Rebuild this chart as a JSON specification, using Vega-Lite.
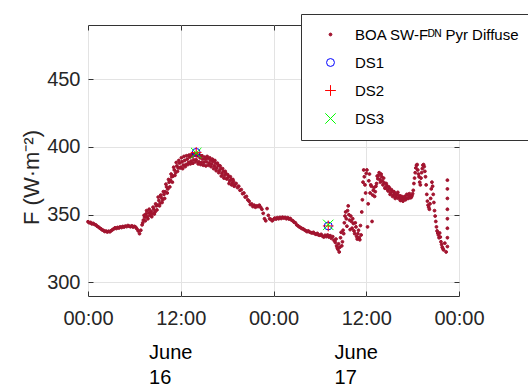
{
"$schema":"https://vega.github.io/schema/vega-lite/v6.json",
"autosize":{"type":"none"},
"width":371,"height":271,
"padding":{"left":88,"top":25,"right":69,"bottom":91},
"background":"white",
"config":{
 "font":"Liberation Sans",
 "view":{"stroke":"#333333","strokeWidth":1},
 "axis":{"labelFont":"Liberation Sans","labelFontSize":20,"labelColor":"#262626","domainColor":"#333333","tickColor":"#333333","tickWidth":1,"gridColor":"#e3e3e3","gridWidth":1,"titleFont":"Liberation Sans","titleFontWeight":"normal","titleColor":"#262626"},
 "legend":{"orient":"none","legendX":213,"legendY":-11,"fillColor":"white","strokeColor":"#333333","strokeWidth":1,"padding":13,"labelFont":"Liberation Sans","labelFontSize":15,"labelColor":"#000000","rowPadding":12,"symbolOffset":9,"labelOffset":17,"labelLimit":0,"title":null,"symbolStrokeWidth":1}
},
"datasets":{"main":[
{"t":"2024-06-16T00:00","v":344.8,"s":"B"},{"t":"2024-06-16T00:10","v":344.0,"s":"B"},{"t":"2024-06-16T00:20","v":344.3,"s":"B"},{"t":"2024-06-16T00:30","v":343.2,"s":"B"},{"t":"2024-06-16T00:40","v":343.6,"s":"B"},{"t":"2024-06-16T00:50","v":342.8,"s":"B"},
{"t":"2024-06-16T01:00","v":342.5,"s":"B"},{"t":"2024-06-16T01:10","v":341.6,"s":"B"},{"t":"2024-06-16T01:20","v":341.0,"s":"B"},{"t":"2024-06-16T01:30","v":340.2,"s":"B"},{"t":"2024-06-16T01:40","v":339.6,"s":"B"},{"t":"2024-06-16T01:50","v":338.8,"s":"B"},
{"t":"2024-06-16T02:00","v":338.4,"s":"B"},{"t":"2024-06-16T02:10","v":337.6,"s":"B"},{"t":"2024-06-16T02:20","v":337.9,"s":"B"},{"t":"2024-06-16T02:30","v":337.2,"s":"B"},{"t":"2024-06-16T02:40","v":337.8,"s":"B"},{"t":"2024-06-16T02:50","v":337.4,"s":"B"},
{"t":"2024-06-16T03:00","v":338.2,"s":"B"},{"t":"2024-06-16T03:10","v":338.9,"s":"B"},{"t":"2024-06-16T03:20","v":339.5,"s":"B"},{"t":"2024-06-16T03:30","v":340.3,"s":"B"},{"t":"2024-06-16T03:40","v":339.8,"s":"B"},{"t":"2024-06-16T03:50","v":340.6,"s":"B"},
{"t":"2024-06-16T04:00","v":340.2,"s":"B"},{"t":"2024-06-16T04:10","v":341.0,"s":"B"},{"t":"2024-06-16T04:20","v":340.5,"s":"B"},{"t":"2024-06-16T04:30","v":341.3,"s":"B"},{"t":"2024-06-16T04:40","v":340.9,"s":"B"},{"t":"2024-06-16T04:50","v":341.6,"s":"B"},
{"t":"2024-06-16T05:00","v":341.2,"s":"B"},{"t":"2024-06-16T05:10","v":342.0,"s":"B"},{"t":"2024-06-16T05:20","v":341.5,"s":"B"},{"t":"2024-06-16T05:30","v":341.1,"s":"B"},{"t":"2024-06-16T05:40","v":341.8,"s":"B"},{"t":"2024-06-16T05:50","v":340.9,"s":"B"},
{"t":"2024-06-16T06:00","v":341.4,"s":"B"},{"t":"2024-06-16T06:10","v":340.8,"s":"B"},{"t":"2024-06-16T06:20","v":339.5,"s":"B"},{"t":"2024-06-16T06:30","v":338.0,"s":"B"},{"t":"2024-06-16T06:40","v":336.0,"s":"B"},{"t":"2024-06-16T06:50","v":338.5,"s":"B"},
{"t":"2024-06-16T07:00","v":342.5,"s":"B"},{"t":"2024-06-16T07:10","v":346.0,"s":"B"},{"t":"2024-06-16T07:20","v":348.0,"s":"B"},{"t":"2024-06-16T07:30","v":350.5,"s":"B"},{"t":"2024-06-16T07:40","v":348.5,"s":"B"},{"t":"2024-06-16T07:50","v":351.5,"s":"B"},
{"t":"2024-06-16T08:00","v":349.5,"s":"B"},{"t":"2024-06-16T08:10","v":352.5,"s":"B"},{"t":"2024-06-16T08:20","v":350.8,"s":"B"},{"t":"2024-06-16T08:30","v":354.0,"s":"B"},{"t":"2024-06-16T08:40","v":352.0,"s":"B"},{"t":"2024-06-16T08:50","v":356.5,"s":"B"},
{"t":"2024-06-16T09:00","v":357.0,"s":"B"},{"t":"2024-06-16T09:10","v":360.5,"s":"B"},{"t":"2024-06-16T09:20","v":358.5,"s":"B"},{"t":"2024-06-16T09:30","v":362.5,"s":"B"},{"t":"2024-06-16T09:40","v":361.0,"s":"B"},{"t":"2024-06-16T09:50","v":365.0,"s":"B"},
{"t":"2024-06-16T10:00","v":367.0,"s":"B"},{"t":"2024-06-16T10:10","v":370.5,"s":"B"},{"t":"2024-06-16T10:20","v":369.0,"s":"B"},{"t":"2024-06-16T10:30","v":374.0,"s":"B"},{"t":"2024-06-16T10:40","v":375.5,"s":"B"},{"t":"2024-06-16T10:50","v":378.0,"s":"B"},
{"t":"2024-06-16T11:00","v":378.5,"s":"B"},{"t":"2024-06-16T11:10","v":383.0,"s":"B"},{"t":"2024-06-16T11:20","v":381.0,"s":"B"},{"t":"2024-06-16T11:30","v":386.0,"s":"B"},{"t":"2024-06-16T11:40","v":384.5,"s":"B"},{"t":"2024-06-16T11:50","v":388.0,"s":"B"},
{"t":"2024-06-16T12:00","v":385.0,"s":"B"},{"t":"2024-06-16T12:10","v":389.0,"s":"B"},{"t":"2024-06-16T12:20","v":386.5,"s":"B"},{"t":"2024-06-16T12:30","v":390.0,"s":"B"},{"t":"2024-06-16T12:40","v":387.0,"s":"B"},{"t":"2024-06-16T12:50","v":391.0,"s":"B"},
{"t":"2024-06-16T13:00","v":388.5,"s":"B"},{"t":"2024-06-16T13:10","v":392.5,"s":"B"},{"t":"2024-06-16T13:20","v":389.5,"s":"B"},{"t":"2024-06-16T13:30","v":393.0,"s":"B"},{"t":"2024-06-16T13:40","v":390.5,"s":"B"},{"t":"2024-06-16T13:50","v":394.0,"s":"B"},
{"t":"2024-06-16T14:00","v":390.5,"s":"B"},{"t":"2024-06-16T14:10","v":393.5,"s":"B"},{"t":"2024-06-16T14:20","v":389.0,"s":"B"},{"t":"2024-06-16T14:30","v":392.0,"s":"B"},{"t":"2024-06-16T14:40","v":388.5,"s":"B"},{"t":"2024-06-16T14:50","v":391.0,"s":"B"},
{"t":"2024-06-16T15:00","v":388.5,"s":"B"},{"t":"2024-06-16T15:10","v":391.0,"s":"B"},{"t":"2024-06-16T15:20","v":389.0,"s":"B"},{"t":"2024-06-16T15:30","v":391.5,"s":"B"},{"t":"2024-06-16T15:40","v":388.0,"s":"B"},{"t":"2024-06-16T15:50","v":390.0,"s":"B"},
{"t":"2024-06-16T16:00","v":387.5,"s":"B"},{"t":"2024-06-16T16:10","v":389.5,"s":"B"},{"t":"2024-06-16T16:20","v":386.0,"s":"B"},{"t":"2024-06-16T16:30","v":388.0,"s":"B"},{"t":"2024-06-16T16:40","v":384.5,"s":"B"},{"t":"2024-06-16T16:50","v":386.5,"s":"B"},
{"t":"2024-06-16T17:00","v":382.5,"s":"B"},{"t":"2024-06-16T17:10","v":384.0,"s":"B"},{"t":"2024-06-16T17:20","v":380.5,"s":"B"},{"t":"2024-06-16T17:30","v":382.0,"s":"B"},{"t":"2024-06-16T17:40","v":379.0,"s":"B"},{"t":"2024-06-16T17:50","v":380.5,"s":"B"},
{"t":"2024-06-16T18:00","v":376.5,"s":"B"},{"t":"2024-06-16T18:10","v":378.0,"s":"B"},{"t":"2024-06-16T18:20","v":375.0,"s":"B"},{"t":"2024-06-16T18:30","v":376.0,"s":"B"},{"t":"2024-06-16T18:40","v":373.5,"s":"B"},{"t":"2024-06-16T18:50","v":374.5,"s":"B"},
{"t":"2024-06-16T19:00","v":372.0,"s":"B"},{"t":"2024-06-16T19:10","v":373.0,"s":"B"},{"t":"2024-06-16T19:20","v":370.0,"s":"B"},{"t":"2024-06-16T19:30","v":371.0,"s":"B"},{"t":"2024-06-16T19:40","v":368.0,"s":"B"},{"t":"2024-06-16T19:50","v":368.5,"s":"B"},
{"t":"2024-06-16T20:00","v":365.5,"s":"B"},{"t":"2024-06-16T20:10","v":366.0,"s":"B"},{"t":"2024-06-16T20:20","v":363.0,"s":"B"},{"t":"2024-06-16T20:30","v":363.5,"s":"B"},{"t":"2024-06-16T20:40","v":361.0,"s":"B"},{"t":"2024-06-16T20:50","v":360.0,"s":"B"},
{"t":"2024-06-16T21:00","v":357.5,"s":"B"},{"t":"2024-06-16T21:10","v":358.0,"s":"B"},{"t":"2024-06-16T21:20","v":356.0,"s":"B"},{"t":"2024-06-16T21:30","v":357.0,"s":"B"},{"t":"2024-06-16T21:40","v":355.5,"s":"B"},{"t":"2024-06-16T21:50","v":356.5,"s":"B"},
{"t":"2024-06-16T22:00","v":356.0,"s":"B"},{"t":"2024-06-16T22:10","v":357.0,"s":"B"},{"t":"2024-06-16T22:20","v":355.5,"s":"B"},{"t":"2024-06-16T22:30","v":354.0,"s":"B"},{"t":"2024-06-16T22:40","v":351.0,"s":"B"},{"t":"2024-06-16T22:50","v":347.0,"s":"B"},
{"t":"2024-06-16T23:00","v":345.5,"s":"B"},{"t":"2024-06-16T23:10","v":354.5,"s":"B"},{"t":"2024-06-16T23:20","v":349.5,"s":"B"},{"t":"2024-06-16T23:30","v":347.0,"s":"B"},{"t":"2024-06-16T23:40","v":346.5,"s":"B"},{"t":"2024-06-16T23:50","v":345.5,"s":"B"},
{"t":"2024-06-17T00:00","v":346.5,"s":"B"},{"t":"2024-06-17T00:10","v":347.5,"s":"B"},{"t":"2024-06-17T00:20","v":346.8,"s":"B"},{"t":"2024-06-17T00:30","v":347.8,"s":"B"},{"t":"2024-06-17T00:40","v":347.0,"s":"B"},{"t":"2024-06-17T00:50","v":348.0,"s":"B"},
{"t":"2024-06-17T01:00","v":347.2,"s":"B"},{"t":"2024-06-17T01:10","v":348.2,"s":"B"},{"t":"2024-06-17T01:20","v":347.5,"s":"B"},{"t":"2024-06-17T01:30","v":348.0,"s":"B"},{"t":"2024-06-17T01:40","v":347.0,"s":"B"},{"t":"2024-06-17T01:50","v":347.8,"s":"B"},
{"t":"2024-06-17T02:00","v":346.8,"s":"B"},{"t":"2024-06-17T02:10","v":347.2,"s":"B"},{"t":"2024-06-17T02:20","v":346.0,"s":"B"},{"t":"2024-06-17T02:30","v":345.5,"s":"B"},{"t":"2024-06-17T02:40","v":344.5,"s":"B"},{"t":"2024-06-17T02:50","v":344.0,"s":"B"},
{"t":"2024-06-17T03:00","v":342.5,"s":"B"},{"t":"2024-06-17T03:10","v":341.8,"s":"B"},{"t":"2024-06-17T03:20","v":341.0,"s":"B"},{"t":"2024-06-17T03:30","v":340.5,"s":"B"},{"t":"2024-06-17T03:40","v":339.8,"s":"B"},{"t":"2024-06-17T03:50","v":339.5,"s":"B"},
{"t":"2024-06-17T04:00","v":338.8,"s":"B"},{"t":"2024-06-17T04:10","v":338.2,"s":"B"},{"t":"2024-06-17T04:20","v":337.5,"s":"B"},{"t":"2024-06-17T04:30","v":338.0,"s":"B"},{"t":"2024-06-17T04:40","v":337.2,"s":"B"},{"t":"2024-06-17T04:50","v":336.8,"s":"B"},
{"t":"2024-06-17T05:00","v":336.5,"s":"B"},{"t":"2024-06-17T05:10","v":337.0,"s":"B"},{"t":"2024-06-17T05:20","v":336.0,"s":"B"},{"t":"2024-06-17T05:30","v":335.5,"s":"B"},{"t":"2024-06-17T05:40","v":336.2,"s":"B"},{"t":"2024-06-17T05:50","v":335.0,"s":"B"},
{"t":"2024-06-17T06:00","v":334.8,"s":"B"},{"t":"2024-06-17T06:10","v":335.5,"s":"B"},{"t":"2024-06-17T06:20","v":334.2,"s":"B"},{"t":"2024-06-17T06:30","v":333.5,"s":"B"},{"t":"2024-06-17T06:40","v":334.8,"s":"B"},{"t":"2024-06-17T06:50","v":333.8,"s":"B"},
{"t":"2024-06-17T07:00","v":335.0,"s":"B"},{"t":"2024-06-17T07:10","v":333.5,"s":"B"},{"t":"2024-06-17T07:20","v":334.5,"s":"B"},{"t":"2024-06-17T07:30","v":332.5,"s":"B"},{"t":"2024-06-17T07:40","v":333.8,"s":"B"},{"t":"2024-06-17T07:50","v":331.0,"s":"B"},
{"t":"2024-06-17T08:00","v":329.5,"s":"B"},{"t":"2024-06-17T08:10","v":327.0,"s":"B"},{"t":"2024-06-17T08:20","v":324.5,"s":"B"},{"t":"2024-06-17T08:30","v":322.5,"s":"B"},{"t":"2024-06-17T08:40","v":333.0,"s":"B"},{"t":"2024-06-17T08:50","v":327.0,"s":"B"},
{"t":"2024-06-17T09:00","v":338.5,"s":"B"},{"t":"2024-06-17T09:10","v":344.0,"s":"B"},{"t":"2024-06-17T09:20","v":352.0,"s":"B"},{"t":"2024-06-17T09:30","v":341.5,"s":"B"},{"t":"2024-06-17T09:40","v":356.5,"s":"B"},{"t":"2024-06-17T09:50","v":346.0,"s":"B"},
{"t":"2024-06-17T10:00","v":349.0,"s":"B"},{"t":"2024-06-17T10:10","v":340.0,"s":"B"},{"t":"2024-06-17T10:20","v":343.5,"s":"B"},{"t":"2024-06-17T10:30","v":336.0,"s":"B"},{"t":"2024-06-17T10:40","v":341.0,"s":"B"},{"t":"2024-06-17T10:50","v":332.0,"s":"B"},
{"t":"2024-06-17T11:00","v":338.5,"s":"B"},{"t":"2024-06-17T11:10","v":331.5,"s":"B"},{"t":"2024-06-17T11:20","v":335.0,"s":"B"},{"t":"2024-06-17T11:30","v":361.0,"s":"B"},{"t":"2024-06-17T11:40","v":383.0,"s":"B"},{"t":"2024-06-17T11:50","v":372.0,"s":"B"},
{"t":"2024-06-17T12:00","v":380.5,"s":"B"},{"t":"2024-06-17T12:10","v":341.0,"s":"B"},{"t":"2024-06-17T12:20","v":375.0,"s":"B"},{"t":"2024-06-17T12:30","v":366.0,"s":"B"},{"t":"2024-06-17T12:40","v":371.0,"s":"B"},{"t":"2024-06-17T12:50","v":364.5,"s":"B"},
{"t":"2024-06-17T13:00","v":370.0,"s":"B"},{"t":"2024-06-17T13:10","v":367.0,"s":"B"},{"t":"2024-06-17T13:20","v":373.0,"s":"B"},{"t":"2024-06-17T13:30","v":376.5,"s":"B"},{"t":"2024-06-17T13:40","v":381.0,"s":"B"},{"t":"2024-06-17T13:50","v":374.0,"s":"B"},
{"t":"2024-06-17T14:00","v":378.0,"s":"B"},{"t":"2024-06-17T14:10","v":372.0,"s":"B"},{"t":"2024-06-17T14:20","v":373.5,"s":"B"},{"t":"2024-06-17T14:30","v":370.0,"s":"B"},{"t":"2024-06-17T14:40","v":371.5,"s":"B"},{"t":"2024-06-17T14:50","v":367.5,"s":"B"},
{"t":"2024-06-17T15:00","v":369.5,"s":"B"},{"t":"2024-06-17T15:10","v":366.0,"s":"B"},{"t":"2024-06-17T15:20","v":367.5,"s":"B"},{"t":"2024-06-17T15:30","v":364.5,"s":"B"},{"t":"2024-06-17T15:40","v":366.0,"s":"B"},{"t":"2024-06-17T15:50","v":363.0,"s":"B"},
{"t":"2024-06-17T16:00","v":365.0,"s":"B"},{"t":"2024-06-17T16:10","v":362.0,"s":"B"},{"t":"2024-06-17T16:20","v":364.0,"s":"B"},{"t":"2024-06-17T16:30","v":361.0,"s":"B"},{"t":"2024-06-17T16:40","v":362.5,"s":"B"},{"t":"2024-06-17T16:50","v":361.5,"s":"B"},
{"t":"2024-06-17T17:00","v":363.5,"s":"B"},{"t":"2024-06-17T17:10","v":362.0,"s":"B"},{"t":"2024-06-17T17:20","v":364.5,"s":"B"},{"t":"2024-06-17T17:30","v":362.5,"s":"B"},{"t":"2024-06-17T17:40","v":364.0,"s":"B"},{"t":"2024-06-17T17:50","v":363.0,"s":"B"},
{"t":"2024-06-17T18:00","v":365.5,"s":"B"},{"t":"2024-06-17T18:10","v":373.0,"s":"B"},{"t":"2024-06-17T18:20","v":381.0,"s":"B"},{"t":"2024-06-17T18:30","v":386.5,"s":"B"},{"t":"2024-06-17T18:40","v":383.0,"s":"B"},{"t":"2024-06-17T18:50","v":378.0,"s":"B"},
{"t":"2024-06-17T19:00","v":372.0,"s":"B"},{"t":"2024-06-17T19:10","v":381.0,"s":"B"},{"t":"2024-06-17T19:20","v":386.5,"s":"B"},{"t":"2024-06-17T19:30","v":385.5,"s":"B"},{"t":"2024-06-17T19:40","v":378.0,"s":"B"},{"t":"2024-06-17T19:50","v":365.0,"s":"B"},
{"t":"2024-06-17T20:00","v":357.0,"s":"B"},{"t":"2024-06-17T20:10","v":354.0,"s":"B"},{"t":"2024-06-17T20:20","v":362.0,"s":"B"},{"t":"2024-06-17T20:30","v":374.0,"s":"B"},{"t":"2024-06-17T20:40","v":365.0,"s":"B"},{"t":"2024-06-17T20:50","v":353.0,"s":"B"},
{"t":"2024-06-17T21:00","v":345.0,"s":"B"},{"t":"2024-06-17T21:10","v":338.0,"s":"B"},{"t":"2024-06-17T21:20","v":335.0,"s":"B"},{"t":"2024-06-17T21:30","v":336.5,"s":"B"},{"t":"2024-06-17T21:40","v":330.0,"s":"B"},{"t":"2024-06-17T21:50","v":326.0,"s":"B"},
{"t":"2024-06-17T22:00","v":324.0,"s":"B"},{"t":"2024-06-17T22:10","v":329.0,"s":"B"},{"t":"2024-06-17T22:20","v":322.5,"s":"B"},
{"t":"2024-06-17T22:30","v":375.5,"s":"B"},{"t":"2024-06-17T22:30","v":369.0,"s":"B"},{"t":"2024-06-17T22:30","v":362.0,"s":"B"},{"t":"2024-06-17T22:30","v":354.0,"s":"B"},{"t":"2024-06-17T22:30","v":347.0,"s":"B"},{"t":"2024-06-17T22:30","v":340.0,"s":"B"},{"t":"2024-06-17T22:30","v":333.0,"s":"B"},{"t":"2024-06-17T22:30","v":326.5,"s":"B"},
{"t":"2024-06-16T07:05","v":344.0,"s":"B"},{"t":"2024-06-16T07:15","v":349.5,"s":"B"},{"t":"2024-06-16T07:25","v":345.5,"s":"B"},{"t":"2024-06-16T07:35","v":353.0,"s":"B"},{"t":"2024-06-16T07:45","v":347.0,"s":"B"},{"t":"2024-06-16T07:55","v":354.0,"s":"B"},
{"t":"2024-06-16T08:05","v":351.0,"s":"B"},{"t":"2024-06-16T08:15","v":348.5,"s":"B"},{"t":"2024-06-16T08:25","v":355.5,"s":"B"},{"t":"2024-06-16T08:35","v":350.5,"s":"B"},{"t":"2024-06-16T08:45","v":358.0,"s":"B"},{"t":"2024-06-16T08:55","v":353.5,"s":"B"},
{"t":"2024-06-16T09:05","v":363.0,"s":"B"},{"t":"2024-06-16T09:15","v":356.5,"s":"B"},{"t":"2024-06-16T09:25","v":364.5,"s":"B"},{"t":"2024-06-16T09:35","v":359.0,"s":"B"},{"t":"2024-06-16T09:45","v":367.0,"s":"B"},{"t":"2024-06-16T09:55","v":362.0,"s":"B"},
{"t":"2024-06-16T10:05","v":372.5,"s":"B"},{"t":"2024-06-16T10:15","v":366.0,"s":"B"},{"t":"2024-06-16T10:25","v":376.0,"s":"B"},{"t":"2024-06-16T10:35","v":370.5,"s":"B"},{"t":"2024-06-16T10:45","v":380.0,"s":"B"},{"t":"2024-06-16T10:55","v":374.0,"s":"B"},
{"t":"2024-06-16T11:05","v":385.0,"s":"B"},{"t":"2024-06-16T11:15","v":379.0,"s":"B"},{"t":"2024-06-16T11:25","v":388.5,"s":"B"},{"t":"2024-06-16T11:35","v":382.0,"s":"B"},{"t":"2024-06-16T11:45","v":390.0,"s":"B"},{"t":"2024-06-16T11:55","v":384.5,"s":"B"},
{"t":"2024-06-16T12:05","v":392.0,"s":"B"},{"t":"2024-06-16T12:15","v":384.0,"s":"B"},{"t":"2024-06-16T12:25","v":393.0,"s":"B"},{"t":"2024-06-16T12:35","v":385.5,"s":"B"},{"t":"2024-06-16T12:45","v":393.5,"s":"B"},{"t":"2024-06-16T12:55","v":387.0,"s":"B"},
{"t":"2024-06-16T13:05","v":394.0,"s":"B"},{"t":"2024-06-16T13:15","v":387.5,"s":"B"},{"t":"2024-06-16T13:25","v":394.5,"s":"B"},{"t":"2024-06-16T13:35","v":388.0,"s":"B"},{"t":"2024-06-16T13:45","v":394.5,"s":"B"},{"t":"2024-06-16T13:55","v":389.0,"s":"B"},
{"t":"2024-06-16T14:05","v":394.5,"s":"B"},{"t":"2024-06-16T14:15","v":387.5,"s":"B"},{"t":"2024-06-16T14:25","v":394.0,"s":"B"},{"t":"2024-06-16T14:35","v":387.0,"s":"B"},{"t":"2024-06-16T14:45","v":393.5,"s":"B"},{"t":"2024-06-16T14:55","v":386.5,"s":"B"},
{"t":"2024-06-16T15:05","v":392.5,"s":"B"},{"t":"2024-06-16T15:15","v":386.0,"s":"B"},{"t":"2024-06-16T15:25","v":393.0,"s":"B"},{"t":"2024-06-16T15:35","v":386.5,"s":"B"},{"t":"2024-06-16T15:45","v":392.0,"s":"B"},{"t":"2024-06-16T15:55","v":385.5,"s":"B"},
{"t":"2024-06-16T16:05","v":391.0,"s":"B"},{"t":"2024-06-16T16:15","v":384.0,"s":"B"},{"t":"2024-06-16T16:25","v":390.0,"s":"B"},{"t":"2024-06-16T16:35","v":382.5,"s":"B"},{"t":"2024-06-16T16:45","v":388.0,"s":"B"},{"t":"2024-06-16T16:55","v":381.0,"s":"B"},
{"t":"2024-06-16T17:05","v":386.0,"s":"B"},{"t":"2024-06-16T17:15","v":378.5,"s":"B"},{"t":"2024-06-16T17:25","v":384.0,"s":"B"},{"t":"2024-06-16T17:35","v":377.0,"s":"B"},{"t":"2024-06-16T17:45","v":382.0,"s":"B"},{"t":"2024-06-16T17:55","v":376.5,"s":"B"},
{"t":"2024-06-16T18:05","v":379.5,"s":"B"},{"t":"2024-06-16T18:15","v":373.0,"s":"B"},{"t":"2024-06-16T18:25","v":378.0,"s":"B"},{"t":"2024-06-16T18:35","v":372.0,"s":"B"},{"t":"2024-06-16T18:45","v":376.0,"s":"B"},{"t":"2024-06-16T18:55","v":371.0,"s":"B"},
{"t":"2024-06-17T08:05","v":332.0,"s":"B"},{"t":"2024-06-17T08:15","v":325.5,"s":"B"},{"t":"2024-06-17T08:25","v":328.5,"s":"B"},{"t":"2024-06-17T08:35","v":326.0,"s":"B"},{"t":"2024-06-17T08:45","v":337.0,"s":"B"},{"t":"2024-06-17T08:55","v":330.0,"s":"B"},
{"t":"2024-06-17T09:05","v":336.0,"s":"B"},{"t":"2024-06-17T09:15","v":349.0,"s":"B"},{"t":"2024-06-17T09:25","v":347.0,"s":"B"},{"t":"2024-06-17T09:35","v":353.0,"s":"B"},{"t":"2024-06-17T09:45","v":350.0,"s":"B"},{"t":"2024-06-17T09:55","v":339.0,"s":"B"},
{"t":"2024-06-17T10:05","v":345.0,"s":"B"},{"t":"2024-06-17T10:15","v":347.0,"s":"B"},{"t":"2024-06-17T10:25","v":338.0,"s":"B"},{"t":"2024-06-17T10:35","v":344.0,"s":"B"},{"t":"2024-06-17T10:45","v":334.0,"s":"B"},{"t":"2024-06-17T10:55","v":336.0,"s":"B"},
{"t":"2024-06-17T11:05","v":333.0,"s":"B"},{"t":"2024-06-17T11:15","v":342.0,"s":"B"},{"t":"2024-06-17T11:25","v":352.0,"s":"B"},{"t":"2024-06-17T11:35","v":374.0,"s":"B"},{"t":"2024-06-17T11:45","v":378.0,"s":"B"},{"t":"2024-06-17T11:55","v":366.0,"s":"B"},
{"t":"2024-06-17T12:05","v":383.0,"s":"B"},{"t":"2024-06-17T12:15","v":358.0,"s":"B"},{"t":"2024-06-17T12:25","v":380.0,"s":"B"},{"t":"2024-06-17T12:35","v":372.0,"s":"B"},{"t":"2024-06-17T12:45","v":345.0,"s":"B"},{"t":"2024-06-17T12:55","v":368.0,"s":"B"},
{"t":"2024-06-17T13:05","v":363.5,"s":"B"},{"t":"2024-06-17T13:15","v":371.0,"s":"B"},{"t":"2024-06-17T13:25","v":378.5,"s":"B"},{"t":"2024-06-17T13:35","v":379.0,"s":"B"},{"t":"2024-06-17T13:45","v":376.0,"s":"B"},{"t":"2024-06-17T13:55","v":380.0,"s":"B"},
{"t":"2024-06-17T14:05","v":375.0,"s":"B"},{"t":"2024-06-17T14:15","v":377.0,"s":"B"},{"t":"2024-06-17T14:25","v":369.5,"s":"B"},{"t":"2024-06-17T14:35","v":373.0,"s":"B"},{"t":"2024-06-17T14:45","v":368.5,"s":"B"},{"t":"2024-06-17T14:55","v":370.5,"s":"B"},
{"t":"2024-06-17T15:05","v":365.0,"s":"B"},{"t":"2024-06-17T15:15","v":368.5,"s":"B"},{"t":"2024-06-17T15:25","v":363.5,"s":"B"},{"t":"2024-06-17T15:35","v":367.0,"s":"B"},{"t":"2024-06-17T15:45","v":362.0,"s":"B"},{"t":"2024-06-17T15:55","v":364.5,"s":"B"},
{"t":"2024-06-17T16:05","v":366.5,"s":"B"},{"t":"2024-06-17T16:15","v":363.0,"s":"B"},{"t":"2024-06-17T16:25","v":360.5,"s":"B"},{"t":"2024-06-17T16:35","v":363.5,"s":"B"},{"t":"2024-06-17T16:45","v":360.0,"s":"B"},{"t":"2024-06-17T16:55","v":363.0,"s":"B"},
{"t":"2024-06-17T17:05","v":361.0,"s":"B"},{"t":"2024-06-17T17:15","v":365.0,"s":"B"},{"t":"2024-06-17T17:25","v":362.0,"s":"B"},{"t":"2024-06-17T17:35","v":365.5,"s":"B"},{"t":"2024-06-17T17:45","v":362.5,"s":"B"},{"t":"2024-06-17T17:55","v":364.0,"s":"B"},
{"t":"2024-06-17T18:05","v":368.0,"s":"B"},{"t":"2024-06-17T18:15","v":377.0,"s":"B"},{"t":"2024-06-17T18:25","v":384.5,"s":"B"},{"t":"2024-06-17T18:35","v":387.0,"s":"B"},{"t":"2024-06-17T18:45","v":380.0,"s":"B"},{"t":"2024-06-17T18:55","v":374.0,"s":"B"},
{"t":"2024-06-17T19:05","v":377.0,"s":"B"},{"t":"2024-06-17T19:15","v":384.0,"s":"B"},{"t":"2024-06-17T19:25","v":387.0,"s":"B"},{"t":"2024-06-17T19:35","v":382.0,"s":"B"},{"t":"2024-06-17T19:45","v":372.0,"s":"B"},{"t":"2024-06-17T19:55","v":360.0,"s":"B"},
{"t":"2024-06-17T20:05","v":355.5,"s":"B"},{"t":"2024-06-17T20:15","v":358.0,"s":"B"},{"t":"2024-06-17T20:25","v":369.0,"s":"B"},{"t":"2024-06-17T20:35","v":371.0,"s":"B"},{"t":"2024-06-17T20:45","v":359.0,"s":"B"},{"t":"2024-06-17T20:55","v":349.0,"s":"B"},
{"t":"2024-06-17T21:05","v":341.0,"s":"B"},{"t":"2024-06-17T21:15","v":336.5,"s":"B"},{"t":"2024-06-17T21:25","v":333.0,"s":"B"},{"t":"2024-06-17T21:35","v":333.5,"s":"B"},{"t":"2024-06-17T21:45","v":328.0,"s":"B"},{"t":"2024-06-17T21:55","v":325.0,"s":"B"},
{"t":"2024-06-16T14:00","v":396.0,"s":"DS1"},{"t":"2024-06-16T14:00","v":396.0,"s":"DS2"},{"t":"2024-06-16T14:00","v":395.5,"s":"DS3"},
{"t":"2024-06-17T07:05","v":341.7,"s":"DS1"},{"t":"2024-06-17T07:05","v":341.7,"s":"DS2"},{"t":"2024-06-17T07:05","v":342.5,"s":"DS3"}
]},
"layer":[
 {
  "data":{"name":"main"},
  "mark":{"type":"point","strokeWidth":1,"opacity":1},
  "encoding":{
   "x":{"field":"t","type":"temporal",
    "scale":{"domain":[{"year":2024,"month":6,"date":16,"hours":0},{"year":2024,"month":6,"date":18,"hours":0}],"nice":false},
    "axis":{"orient":"bottom","title":null,"format":"%H:%M","values":[{"year":2024,"month":6,"date":16,"hours":0},{"year":2024,"month":6,"date":16,"hours":12},{"year":2024,"month":6,"date":17,"hours":0},{"year":2024,"month":6,"date":17,"hours":12},{"year":2024,"month":6,"date":18,"hours":0}],"tickSize":-5,"labelPadding":17,"labelFlush":false,"labelOverlap":false,"labelBound":false,"grid":true,"domain":false}},
   "y":{"field":"v","type":"quantitative",
    "scale":{"domain":[290,490],"nice":false,"zero":false},
    "axis":{"orient":"left","title":"F (W·m⁻²)","titleFontSize":22,"titlePadding":3,"titleY":152,"values":[300,350,400,450],"tickSize":-5,"labelPadding":13,"grid":true,"domain":false}},
   "shape":{"field":"s","type":"nominal","scale":{"domain":["B","DS1","DS2","DS3"],"range":["circle","circle","M-1,0H1M0,-1V1","M-0.8,-0.8L0.8,0.8M-0.8,0.8L0.8,-0.8"]},"legend":{"labelExpr":"datum.label == 'B' ? 'BOA SW-Fᴰᴺ Pyr Diffuse' : datum.label"}},
   "stroke":{"field":"s","type":"nominal","scale":{"domain":["B","DS1","DS2","DS3"],"range":["#A2142F","#0000FF","#FF0000","#00FF00"]},"legend":{"labelExpr":"datum.label == 'B' ? 'BOA SW-Fᴰᴺ Pyr Diffuse' : datum.label"}},
   "fill":{"field":"s","type":"nominal","scale":{"domain":["B","DS1","DS2","DS3"],"range":["#A2142F","transparent","transparent","transparent"]},"legend":{"labelExpr":"datum.label == 'B' ? 'BOA SW-Fᴰᴺ Pyr Diffuse' : datum.label"}},
   "size":{"field":"s","type":"nominal","scale":{"domain":["B","DS1","DS2","DS3"],"range":[8,170,160,110]},"legend":{"labelExpr":"datum.label == 'B' ? 'BOA SW-Fᴰᴺ Pyr Diffuse' : datum.label"}}
  }
 },
 {
  "data":{"values":[{"t":"2024-06-16T07:50","v":400}]},
  "mark":{"type":"point","opacity":0},
  "encoding":{
   "x":{"field":"t","type":"temporal",
    "axis":{"orient":"bottom","title":null,"values":[{"year":2024,"month":6,"date":16,"hours":7,"minutes":50},{"year":2024,"month":6,"date":17,"hours":7,"minutes":50}],"labelExpr":"['June', '' + date(datum.value)]","labelAlign":"left","ticks":false,"domain":false,"grid":false,"labelPadding":46,"labelColor":"#000000","labelLineHeight":25,"labelFlush":false,"labelOverlap":false,"labelBound":false}},
   "y":{"field":"v","type":"quantitative",
    "axis":{"orient":"right","title":null,"labels":false,"grid":false,"domain":false,"values":[300,350,400,450],"tickSize":-5}}
  }
 },
 {
  "data":{"values":[{"t":"2024-06-16T07:50"}]},
  "mark":{"type":"point","opacity":0},
  "encoding":{
   "x":{"field":"t","type":"temporal",
    "axis":{"orient":"top","title":null,"labels":false,"grid":false,"domain":false,"tickSize":-5,"values":[{"year":2024,"month":6,"date":16,"hours":0},{"year":2024,"month":6,"date":16,"hours":12},{"year":2024,"month":6,"date":17,"hours":0},{"year":2024,"month":6,"date":17,"hours":12},{"year":2024,"month":6,"date":18,"hours":0}]}}
  }
 }
],
"resolve":{"axis":{"x":"independent","y":"independent"}}
}
